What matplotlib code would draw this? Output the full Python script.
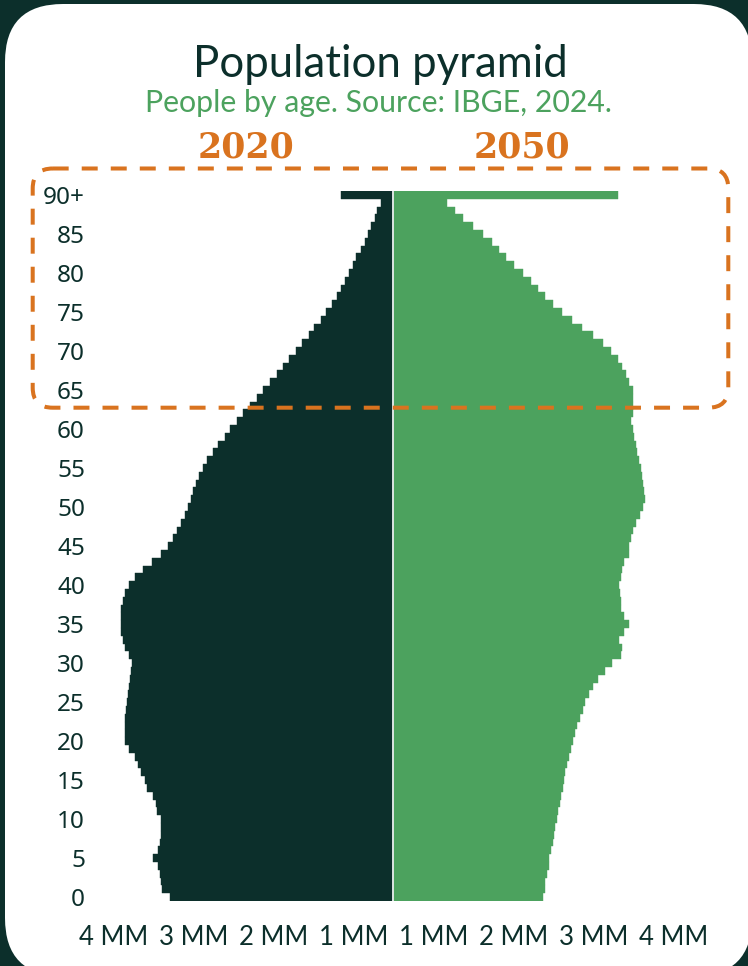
import numpy as np
import matplotlib
matplotlib.use("Agg")
import matplotlib.pyplot as plt
from matplotlib.patches import FancyBboxPatch

# people per single year of age, in millions (ages 0..89, last one is 90+)
ages = np.arange(91)
pop_2020 = [
    2.79, 2.89, 2.91, 2.92, 2.94, 3.00, 2.94, 2.92, 2.91, 2.90,
    2.90, 2.95, 2.97, 3.00, 3.08, 3.11, 3.15, 3.19, 3.23, 3.30,
    3.36, 3.36, 3.35, 3.35, 3.34, 3.33, 3.32, 3.31, 3.29, 3.28,
    3.27, 3.31, 3.35, 3.38, 3.40, 3.41, 3.41, 3.40, 3.38, 3.36,
    3.31, 3.23, 3.13, 3.02, 2.91, 2.82, 2.76, 2.71, 2.66, 2.61,
    2.57, 2.53, 2.50, 2.47, 2.43, 2.38, 2.33, 2.26, 2.19, 2.11,
    2.04, 1.96, 1.88, 1.79, 1.71, 1.625, 1.54, 1.46, 1.375, 1.30,
    1.22, 1.14, 1.06, 0.99, 0.91, 0.84, 0.77, 0.70, 0.65, 0.60,
    0.56, 0.51, 0.47, 0.41, 0.36, 0.32, 0.28, 0.225, 0.20, 0.16,
    0.66,
]
pop_2050 = [
    1.87, 1.89, 1.90, 1.92, 1.94, 1.95, 1.97, 1.99, 2.01, 2.025,
    2.05, 2.06, 2.08, 2.10, 2.12, 2.13, 2.15, 2.175, 2.20, 2.22,
    2.24, 2.27, 2.30, 2.33, 2.37, 2.40, 2.45, 2.49, 2.56, 2.65,
    2.73, 2.84, 2.86, 2.82, 2.88, 2.94, 2.88, 2.85, 2.85, 2.83,
    2.82, 2.85, 2.86, 2.88, 2.94, 2.95, 2.97, 3.00, 3.03, 3.08,
    3.125, 3.14, 3.13, 3.12, 3.11, 3.09, 3.07, 3.05, 3.03, 3.01,
    2.99, 2.975, 2.99, 3.00, 3.00, 2.99, 2.95, 2.91, 2.86, 2.81,
    2.72, 2.62, 2.49, 2.36, 2.23, 2.11, 1.99, 1.90, 1.81, 1.72,
    1.62, 1.51, 1.41, 1.32, 1.23, 1.12, 0.99, 0.875, 0.77, 0.675,
    2.81,
]
age_ticks = list(range(0, 90, 5)) + [90]
age_labels = [str(a) for a in range(0, 90, 5)] + ["90+"]
x_ticks = [-3.5, -2.5, -1.5, -0.5, 0.5, 1.5, 2.5, 3.5]
x_labels = ["4 MM", "3 MM", "2 MM", "1 MM", "1 MM", "2 MM", "3 MM", "4 MM"]

dark = "#0c2f2b"
green = "#4ca25e"
orange = "#d9731f"

W, H = 748, 966
fig = plt.figure(figsize=(W / 100, H / 100), dpi=100, facecolor=dark)

# background card, pixel coordinates
bg = fig.add_axes([0, 0, 1, 1], zorder=0)
bg.set_xlim(0, W)
bg.set_ylim(H, 0)
bg.axis("off")
bg.add_patch(FancyBboxPatch((5, 4), 747, 972, boxstyle="round,pad=0,rounding_size=58",
                            fc="white", ec="none"))

# pyramid axes: zero at x=393.3px, 80px per million, one year = 7.8px
x0, px_mm = 393.3, 80
left_px, right_px = 85, x0 + 4 * px_mm
bot_px, top_px = 900.9, 191.1
ax = fig.add_axes([left_px / W, 1 - bot_px / H, (right_px - left_px) / W, (bot_px - top_px) / H],
                  zorder=1)
ax.patch.set_alpha(0)
ax.barh(ages, -np.array(pop_2020), height=1.0, color=dark, ec=dark, lw=0.3)
ax.barh(ages, pop_2050, height=1.0, color=green, ec=green, lw=0.3)
ax.axvline(0, color="#dde5e3", lw=1.4)
ax.set_xlim(-(x0 - left_px) / px_mm, 4)
ax.set_ylim(-0.5, 90.5)
for s in ax.spines.values():
    s.set_visible(False)
ax.set_yticks(age_ticks)
ax.set_yticklabels(age_labels, fontfamily="Noto Sans", fontsize=17.5, color=dark)
ax.set_xticks(x_ticks)
ax.set_xticklabels(x_labels, fontfamily="Lato", fontsize=18.5, color=dark)
ax.tick_params(axis="y", length=0, pad=0)
ax.tick_params(axis="x", length=0, pad=17)

# titles and the dashed highlight box on top
fg = fig.add_axes([0, 0, 1, 1], zorder=2)
fg.set_xlim(0, W)
fg.set_ylim(H, 0)
fg.axis("off")
fg.patch.set_alpha(0)
lw = 2.9
fg.add_patch(FancyBboxPatch((32.7, 168.5), 728.3 - 32.7, 407.7 - 168.5,
                            boxstyle="round,pad=0,rounding_size=20",
                            fc="none", ec=orange, lw=lw,
                            linestyle=(0, (11.5 / lw, 9.4 / lw))))
fg.text(380.5, 77, "Population pyramid", ha="center", va="baseline",
        fontfamily="Lato", fontsize=31.5, color=dark)
fg.text(378.5, 111.7, "People by age. Source: IBGE, 2024.", ha="center", va="baseline",
        fontfamily="Lato", fontsize=21.8, color=green)
fg.text(246, 158, "2020", ha="center", va="baseline", fontfamily="DejaVu Serif",
        fontweight="bold", fontsize=25, color=orange)
fg.text(522, 158, "2050", ha="center", va="baseline", fontfamily="DejaVu Serif",
        fontweight="bold", fontsize=25, color=orange)

fig.savefig("out.png", dpi=100, facecolor=dark)
